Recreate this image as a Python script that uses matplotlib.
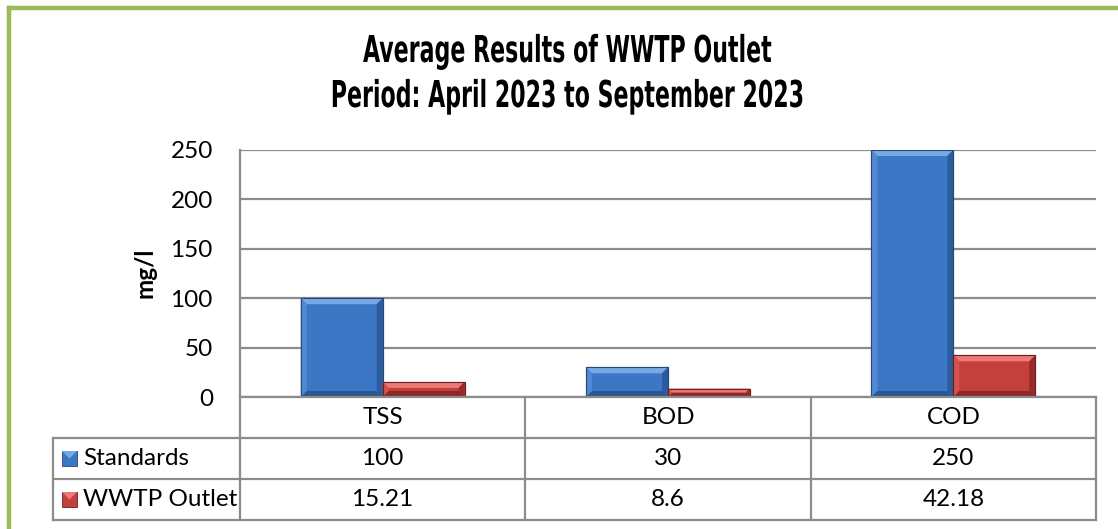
import matplotlib
matplotlib.use("Agg")
import matplotlib.pyplot as plt
from matplotlib.patches import Rectangle, Polygon
from matplotlib.lines import Line2D
from matplotlib import font_manager as fm
from matplotlib.patheffects import AbstractPathEffect
from matplotlib.transforms import Affine2D
from matplotlib.textpath import TextPath
import numpy as np

# ---- data ----
categories = ["TSS", "BOD", "COD"]
series_names = ["Standards", "WWTP Outlet"]
standards = [100, 30, 250]
outlet = [15.21, 8.6, 42.18]
standards_labels = ["100", "30", "250"]
outlet_labels = ["15.21", "8.6", "42.18"]
yticks = [0, 50, 100, 150, 200, 250]
title_lines = ["Average Results of WWTP Outlet", "Period: April 2023 to September 2023"]
ylabel = "mg/l"

W, H = 1118, 529
fig = plt.figure(figsize=(W / 100, H / 100), dpi=100)
fig.patch.set_facecolor("white")

BODY_FONT = ["Lato", "DejaVu Sans"]
FS = 17.5
GRID = "#8c8c8c"


def fx(x):
    return x / W


def fy(y):
    return 1 - y / H


# pick a condensed bold font for the title if one is installed
def pick_title_font():
    order = {"ultra-condensed": 0, "extra-condensed": 1, "condensed": 2, "semi-condensed": 3}
    cands = []
    for f in fm.fontManager.ttflist:
        nm = f.name.lower()
        st = str(f.stretch)
        wt = f.weight if isinstance(f.weight, int) else (700 if "bold" in str(f.weight) else 400)
        narrow = ("narrow" in nm) or ("condensed" in nm) or (st in order)
        if narrow and wt >= 600 and "italic" not in str(f.style) and "oblique" not in str(f.style):
            cands.append((order.get(st, 2), f.fname))
    if cands:
        cands.sort()
        return fm.FontProperties(fname=cands[0][1])
    return fm.FontProperties(family="DejaVu Sans", weight="bold")


title_fp = pick_title_font()


class SqueezeX(AbstractPathEffect):
    """Draw text squeezed horizontally around a display-x centre."""

    def __init__(self, sx, cx):
        super().__init__()
        self.sx = sx
        self.cx = cx

    def draw_path(self, renderer, gc, tpath, affine, rgbFace=None):
        aff = affine + Affine2D().translate(-self.cx, 0).scale(self.sx, 1).translate(self.cx, 0)
        renderer.draw_path(gc, tpath, aff, rgbFace)


# palette: body, top, left, right, bottom, outline
BLUE = dict(body="#3b77c5", top="#79a8e6", left="#5289d3", right="#2c5c9c", bottom="#2a5692", edge="#27497a")
RED = dict(body="#c4403d", top="#ec7a77", left="#d6524f", right="#962c2a", bottom="#8c2826", edge="#6e1f1d")

# ---- plot area ----
left, right, top, bottom = 240, 1096, 150, 397
ax = fig.add_axes([fx(left), fy(bottom), fx(right - left), (bottom - top) / H])
ax.set_xlim(-0.5, len(categories) - 0.5)
ax.set_ylim(0, 250)
ax.set_yticks(yticks)
ax.set_yticklabels([str(t) for t in yticks], fontsize=FS, family=BODY_FONT)
ax.tick_params(axis="y", length=0, pad=19.5)
ax.set_xticks([])
for s in ["right", "bottom", "top"]:
    ax.spines[s].set_visible(False)
ax.spines["left"].set_color(GRID)
ax.spines["left"].set_linewidth(1.6)
ax.yaxis.grid(True, color=GRID, linewidth=1.6)
ax.set_axisbelow(True)
ax.patch.set_alpha(0)

x = np.arange(len(categories))
bw = 0.287


def bevel_bar(xc, h, col, bev=6):
    ax.bar(xc, h, width=bw, color=col["body"], edgecolor=col["edge"], linewidth=0.8, zorder=3)
    fig.canvas.draw()
    tr = ax.transData
    inv = tr.inverted()
    (x0, y0) = tr.transform((xc - bw / 2, 0))
    (x1, y1) = tr.transform((xc + bw / 2, h))
    bb = min(bev, (y1 - y0) / 2.2, (x1 - x0) / 2.2)

    def P(pts):
        return inv.transform(np.array(pts))
    polys = [
        (P([(x0, y1), (x1, y1), (x1 - bb, y1 - bb), (x0 + bb, y1 - bb)]), col["top"]),
        (P([(x0, y0), (x0, y1), (x0 + bb, y1 - bb), (x0 + bb, y0 + bb)]), col["left"]),
        (P([(x1, y0), (x1, y1), (x1 - bb, y1 - bb), (x1 - bb, y0 + bb)]), col["right"]),
        (P([(x0, y0), (x1, y0), (x1 - bb, y0 + bb), (x0 + bb, y0 + bb)]), col["bottom"]),
    ]
    for pts, c in polys:
        ax.add_patch(Polygon(pts, closed=True, facecolor=c, edgecolor="none", zorder=4))
    ax.add_patch(Rectangle((xc - bw / 2, 0), bw, h, facecolor="none", edgecolor=col["edge"],
                           linewidth=0.8, zorder=5))


for i in range(len(categories)):
    bevel_bar(x[i] - bw / 2, standards[i], BLUE)
    bevel_bar(x[i] + bw / 2, outlet[i], RED)

# y label
fig.text(fx(145), fy(273), ylabel, rotation=90, ha="center", va="center",
         fontsize=FS, fontweight="bold", family=BODY_FONT)

# ---- title: condensed, tall glyphs (cap height ~27 px, line 1 ~408 px wide) ----
cap_ratio = TextPath((0, 0), "H", size=1, prop=title_fp).get_extents().height
title_px = 27.0 / cap_ratio              # font size in pixels
title_pt = title_px * 72.0 / 100.0
cx = 567.0
t1 = fig.text(fx(cx), fy(62), title_lines[0], ha="center", va="baseline",
              fontproperties=title_fp, fontsize=title_pt)
t2 = fig.text(fx(cx), fy(107), title_lines[1], ha="center", va="baseline",
              fontproperties=title_fp, fontsize=title_pt)
fig.canvas.draw()
rend = fig.canvas.get_renderer()
w1 = t1.get_window_extent(rend).width
sx = min(1.0, 408.0 / w1)
for t in (t1, t2):
    t.set_path_effects([SqueezeX(sx, cx)])

# ---- data table ----
tl, tr_, tt, tb = 53, 1096, 397, 520
tax = fig.add_axes([fx(tl), fy(tb), fx(tr_ - tl), (tb - tt) / H])
tax.set_xlim(tl, tr_)
tax.set_ylim(tb, tt)
tax.axis("off")
rows_y = [397, 438, 479, 520]
col_x = [240 + k * (1096 - 240) / 3 for k in range(4)]
lw = 1.6
tax.add_line(Line2D([240, 1096], [rows_y[0]] * 2, color=GRID, lw=lw))
for yy in rows_y[1:]:
    tax.add_line(Line2D([tl, 1096], [yy] * 2, color=GRID, lw=lw))
tax.add_line(Line2D([tl, tl], [rows_y[1], rows_y[3]], color=GRID, lw=lw))
for xx in col_x:
    tax.add_line(Line2D([xx, xx], [rows_y[0], rows_y[3]], color=GRID, lw=lw))
for c in tax.lines:
    c.set_clip_on(False)
for k, cat in enumerate(categories):
    tax.text((col_x[k] + col_x[k + 1]) / 2, (rows_y[0] + rows_y[1]) / 2, cat,
             ha="center", va="center", fontsize=FS, family=BODY_FONT)
row_vals = [standards_labels, outlet_labels]
cols = [BLUE, RED]
for r in range(2):
    yc = (rows_y[r + 1] + rows_y[r + 2]) / 2
    ks = 15
    tax.add_patch(Rectangle((62, yc - ks / 2), ks, ks, facecolor=cols[r]["body"],
                            edgecolor=cols[r]["edge"], lw=0.6))
    tax.add_patch(Polygon([(62, yc - ks / 2), (62 + ks, yc - ks / 2), (62 + ks / 2, yc)],
                          facecolor=cols[r]["top"], edgecolor="none"))
    tax.text(83, yc, series_names[r], ha="left", va="center", fontsize=FS, family=BODY_FONT)
    for k in range(3):
        tax.text((col_x[k] + col_x[k + 1]) / 2, yc, row_vals[r][k],
                 ha="center", va="center", fontsize=FS, family=BODY_FONT)

# ---- green frame ----
GREEN = "#9bbb59"
fig.add_artist(Line2D([fx(8.5), 1.0], [fy(7.5), fy(7.5)], color=GREEN, lw=3.2, transform=fig.transFigure))
fig.add_artist(Line2D([fx(8.5), fx(8.5)], [fy(7.5), 0.0], color=GREEN, lw=3.2, transform=fig.transFigure))

fig.savefig("out.png", dpi=100, facecolor="white")
